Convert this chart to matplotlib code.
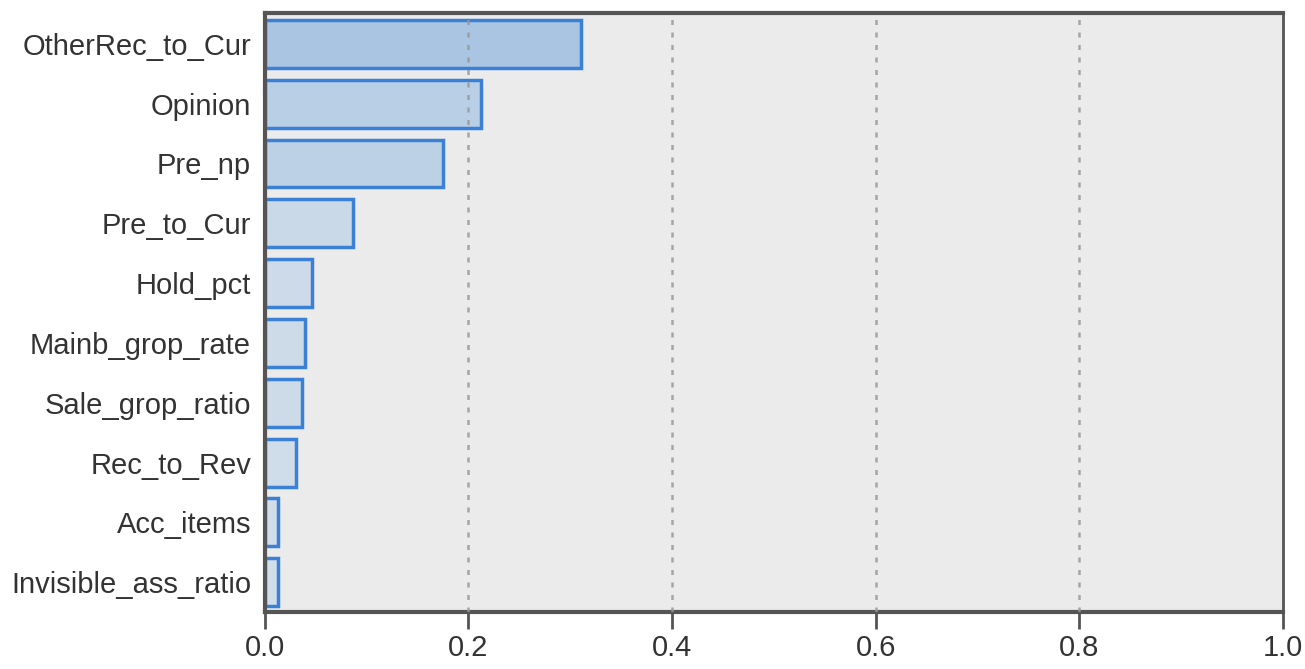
import numpy as np
import matplotlib.pyplot as plt

features = [
    "OtherRec_to_Cur", "Opinion", "Pre_np", "Pre_to_Cur", "Hold_pct",
    "Mainb_grop_rate", "Sale_grop_ratio", "Rec_to_Rev", "Acc_items",
    "Invisible_ass_ratio",
]
importance = [0.311, 0.212, 0.175, 0.087, 0.046, 0.039, 0.036, 0.031, 0.013, 0.013]
fill_colors = ["#a9c5e2", "#b9cfe6", "#bdd1e6", "#c9d9e8", "#ccdae9",
               "#cddbe9", "#cddbe9", "#cfdce9", "#d2deea", "#d2deea"]
xticks = [0.0, 0.2, 0.4, 0.6, 0.8, 1.0]

plt.rcParams["font.family"] = ["Liberation Sans", "DejaVu Sans"]

fig = plt.figure(figsize=(13.05, 6.69), dpi=100)
ax = fig.add_axes([0.203, 0.085, 0.78, 0.896])
ax.set_facecolor("#ebebeb")

y = np.arange(len(features))
ax.barh(y, importance, height=0.8, color=fill_colors,
        edgecolor="#3a80d6", linewidth=2.5, zorder=2)

ax.set_xlim(0, 1.0)
ax.set_ylim(len(features) - 0.5, -0.52)
ax.set_yticks(y)
ax.set_yticklabels(features)
ax.set_xticks(xticks)
ax.set_xticklabels([f"{t:.1f}" for t in xticks])

# dashed reference lines drawn over the bars
for t in xticks[1:-1]:
    ax.axvline(t, color="#999999", linestyle=(0, (2, 3)), linewidth=1.8,
               alpha=0.85, zorder=4)

ax.tick_params(axis="y", length=0, pad=10, labelsize=21, labelcolor="#333333")
ax.tick_params(axis="x", length=12, width=2, color="#555555", pad=4,
               labelsize=21, labelcolor="#333333")

for side in ["left", "bottom", "top"]:
    ax.spines[side].set_linewidth(3)
    ax.spines[side].set_color("#555555")
ax.spines["right"].set_linewidth(2)
ax.spines["right"].set_color("#555555")

fig.savefig("out.png", dpi=100, facecolor="white")
